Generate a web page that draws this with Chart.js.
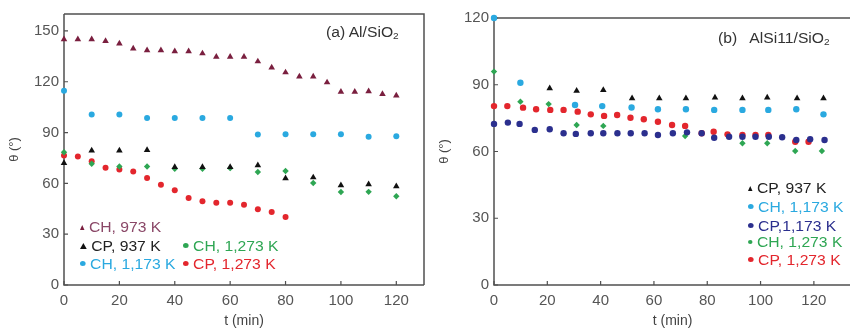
<!DOCTYPE html>
<html><head><meta charset="utf-8">
<script src="https://cdn.jsdelivr.net/npm/chart.js@4/dist/chart.umd.min.js"></script>
<style>
html,body{margin:0;padding:0;background:#fff;overflow:hidden;width:850px;height:329px;}
.panel{position:absolute;top:0;height:329px;}
.txt{position:absolute;font-family:"Liberation Sans",Arial,sans-serif;font-size:14px;white-space:nowrap;transform-origin:left center;transform:scaleX(1.12);line-height:16px;}
.mk{display:inline-block;margin-right:4px;}
.tri{width:0;height:0;border-left:3.5px solid transparent;border-right:3.5px solid transparent;border-bottom:6px solid;vertical-align:2px;}
.dot{width:5px;height:5px;border-radius:50%;vertical-align:3px;}
sub{font-size:9px;vertical-align:-2px;}
</style></head>
<body>
<div class="panel" style="left:0;width:430px;"><canvas id="c1" width="430" height="329"></canvas></div>
<div class="panel" style="left:430px;width:425px;"><canvas id="c2" width="425" height="329"></canvas></div>

<div class="txt" style="left:326px;top:24px;color:#333;">(a) Al/SiO<sub>2</sub></div>
<div class="txt" style="left:718px;top:30px;color:#333;">(b)&nbsp;&nbsp; AlSi11/SiO<sub>2</sub></div>

<div class="txt" style="left:80px;top:219px;color:#8a4767;"><span class="mk tri" style="border-bottom-color:#7a1f3f;border-left-width:2.5px;border-right-width:2.5px;border-bottom-width:5px;"></span>CH, 973 K</div>
<div class="txt" style="left:80px;top:238px;color:#222;"><span class="mk tri" style="border-bottom-color:#111;"></span>CP, 937 K</div>
<div class="txt" style="left:80px;top:256px;color:#2aa9e0;"><span class="mk dot" style="background:#2aa9e0;"></span>CH, 1,173 K</div>
<div class="txt" style="left:183px;top:238px;color:#2ea653;"><span class="mk dot" style="background:#2ea653;"></span>CH, 1,273 K</div>
<div class="txt" style="left:183px;top:256px;color:#e3262d;"><span class="mk dot" style="background:#e3262d;"></span>CP, 1,273 K</div>

<div class="txt" style="left:748px;top:180px;color:#222;"><span class="mk tri" style="border-bottom-color:#111;border-left-width:2.5px;border-right-width:2.5px;border-bottom-width:5px;"></span>CP, 937 K</div>
<div class="txt" style="left:748px;top:199px;color:#2aa9e0;"><span class="mk dot" style="background:#2aa9e0;"></span>CH, 1,173 K</div>
<div class="txt" style="left:748px;top:218px;color:#2b2f8e;"><span class="mk dot" style="background:#2b2f8e;"></span>CP,1,173 K</div>
<div class="txt" style="left:748px;top:234px;color:#2ea653;"><span class="mk dot" style="background:#2ea653;width:4px;height:4px;"></span>CH, 1,273 K</div>
<div class="txt" style="left:748px;top:252px;color:#e3262d;"><span class="mk dot" style="background:#e3262d;"></span>CP, 1,273 K</div>

<script>
// ---------- Panel (a) Al/SiO2 ----------
const a_CH973_t   = [0,5,10,15,20,25,30,35,40,45,50,55,60,65,70,75,80,85,90,95,100,105,110,115,120];
const a_CH973_v   = [145,145,145,144,142.5,139.6,138.6,138.6,138,138,136.7,134.7,134.7,134.7,132,128.4,125.5,123,123,119.6,114,114,114.4,112.7,111.8];
const a_CP937_t   = [0,10,20,30,40,50,60,70,80,90,100,110,120];
const a_CP937_v   = [72,79.4,79.4,79.7,69.6,69.6,69.6,70.6,63,63.5,58.8,59.4,58.2];
const a_CH1173_t  = [0,10,20,30,40,50,60,70,80,90,100,110,120];
const a_CH1173_v  = [114.7,100.6,100.6,98.6,98.6,98.6,98.6,88.8,89,89,89,87.6,87.8];
const a_CH1273_t  = [0,10,20,30,40,50,60,70,80,90,100,110,120];
const a_CH1273_v  = [78.4,71.6,70,70,68.6,68.6,69,66.7,67.3,60.2,54.9,55,52.4];
const a_CP1273_t  = [0,5,10,15,20,25,30,35,40,45,50,55,60,65,70,75,80];
const a_CP1273_v  = [76.5,75.9,73.1,69.2,68.2,67,63.1,59.2,55.9,51.4,49.4,48.6,48.6,47.4,44.7,43.1,40.2];
const a_xTicks = [0,20,40,60,80,100,120];
const a_yTicks = [0,30,60,90,120,150];

// ---------- Panel (b) AlSi11/SiO2 ----------
const b_CP937_t   = [20.9,31,41,51.8,62,72,82.9,93.2,102.5,113.7,123.6];
const b_CP937_v   = [88.4,87.3,87.6,83.9,83.9,83.9,84.2,83.9,84.2,83.9,83.9];
const b_CH1173_t  = [0,9.9,30.4,40.6,51.6,61.5,72,82.6,93.2,102.9,113.4,123.6];
const b_CH1173_v  = [120,90.9,80.9,80.4,79.8,79,79,78.7,78.7,78.7,79,76.7];
const b_CP1173_t  = [0,5.2,9.6,15.3,20.9,26.1,30.7,36.3,41,46.3,51.3,56.5,61.5,67.1,72.4,77.9,82.6,88.2,93.2,98.1,103.1,108.1,113.4,118.6,124];
const b_CP1173_v  = [72.4,73,72.4,69.7,70,68.2,67.9,68.2,68.2,68.2,68.2,68.2,67.4,68.2,68.6,68.2,66.2,66.6,66.6,66.6,66.6,66.4,65.2,65.5,65.2];
const b_CH1273_t  = [0,9.9,20.5,31,41,71.7,93.2,102.5,113,123];
const b_CH1273_v  = [95.9,82.4,81.3,71.9,71.5,67,63.7,63.7,60.2,60.2];
const b_CP1273_t  = [0,5,10.9,15.8,21.1,26.1,31.4,36.3,41.3,46.2,51.2,56.2,61.5,66.8,71.7,77.9,82.4,87.6,93.2,98.1,102.9,113,118];
const b_CP1273_v  = [80.4,80.4,79.7,79,78.7,78.7,77.9,76.7,76,76.4,75.2,74.5,73.4,71.9,71.5,68.2,68.9,67.7,67.4,67.4,67.4,64.4,64.4];
const b_xTicks = [0,20,40,60,80,100,120];
const b_yTicks = [0,30,60,90,120];

const AXIS = '#505050';
const TICKTXT = '#555';
const FONT = '"Liberation Sans", Arial, sans-serif';

function pts(t, v){ return t.map((x,i)=>({x:x, y:v[i]})); }
function ds(label, t, v, color, style, r){
  return {label, data: pts(t,v), showLine:false, pointStyle:style, clip:false,
    pointRadius:r, pointHoverRadius:r, backgroundColor:color, borderColor:color, borderWidth:0};
}

const framePlugin = {
  id:'frame',
  beforeDatasetsDraw(chart, args, opts){
    const {ctx, chartArea:ca, scales:{x,y}} = chart;
    ctx.save();
    ctx.strokeStyle = AXIS; ctx.lineWidth = 1.5;
    ctx.beginPath();
    ctx.moveTo(ca.left, ca.top); ctx.lineTo(ca.right, ca.top); ctx.lineTo(ca.right, ca.bottom);
    ctx.moveTo(ca.left, ca.top); ctx.lineTo(ca.left, ca.bottom); ctx.lineTo(ca.right, ca.bottom);
    ctx.stroke();
    ctx.lineWidth = 1.2;
    ctx.beginPath();
    opts.xt.forEach(v=>{ const p = x.getPixelForValue(v); ctx.moveTo(p, ca.bottom); ctx.lineTo(p, ca.bottom-4); });
    opts.yt.forEach(v=>{ const p = y.getPixelForValue(v); ctx.moveTo(ca.left, p); ctx.lineTo(ca.left+4, p); });
    ctx.stroke();
    ctx.restore();
  }
};

function make(id, datasets, xmax, ymax, xt, yt, padTop, padRight){
  return new Chart(document.getElementById(id), {
    type:'scatter',
    data:{datasets},
    options:{
      responsive:false, animation:false, devicePixelRatio:1,
      layout:{padding:{top:padTop, right:padRight, left:0, bottom:0}},
      plugins:{legend:{display:false}, tooltip:{enabled:false}, frame:{xt, yt}},
      scales:{
        x:{type:'linear', min:0, max:xmax,
          afterBuildTicks:s=>{ s.ticks = xt.map(v=>({value:v})); },
          afterFit:s=>{ s.height = 44; },
          grid:{display:false, drawTicks:false},
          border:{display:false},
          ticks:{color:TICKTXT, font:{family:FONT, size:15}, padding:7, maxRotation:0, autoSkip:false},
          title:{display:true, text:'t (min)', color:'#444', font:{family:FONT, size:14}, padding:{top:0,bottom:-1}}
        },
        y:{type:'linear', min:0, max:ymax,
          afterBuildTicks:s=>{ s.ticks = yt.map(v=>({value:v})); },
          afterFit:s=>{ s.width = 64; },
          grid:{display:false, drawTicks:false},
          border:{display:false},
          ticks:{color:TICKTXT, font:{family:FONT, size:15}, padding:5, autoSkip:false},
          title:{display:true, text:'θ (°)', color:'#444', font:{family:FONT, size:13}, padding:{top:7,bottom:0}}
        }
      }
    },
    plugins:[framePlugin]
  });
}

make('c1', [
  ds('CH, 973 K', a_CH973_t, a_CH973_v, '#7a1f3f', 'triangle', 3.8),
  ds('CP, 937 K', a_CP937_t, a_CP937_v, '#111111', 'triangle', 3.8),
  ds('CH, 1,173 K', a_CH1173_t, a_CH1173_v, '#2aa9e0', 'circle', 3),
  ds('CH, 1,273 K', a_CH1273_t, a_CH1273_v, '#2ea653', 'rectRot', 3.2),
  ds('CP, 1,273 K', a_CP1273_t, a_CP1273_v, '#e3262d', 'circle', 3)
], 130, 160, a_xTicks, a_yTicks, 13, 6);

make('c2', [
  ds('CP, 937 K', b_CP937_t, b_CP937_v, '#111111', 'triangle', 3.8),
  ds('CH, 1,173 K', b_CH1173_t, b_CH1173_v, '#2aa9e0', 'circle', 3.2),
  ds('CP,1,173 K', b_CP1173_t, b_CP1173_v, '#2b2f8e', 'circle', 3.2),
  ds('CH, 1,273 K', b_CH1273_t, b_CH1273_v, '#2ea653', 'rectRot', 3.2),
  ds('CP, 1,273 K', b_CP1273_t, b_CP1273_v, '#e3262d', 'circle', 3.2)
], 134, 120, b_xTicks, b_yTicks, 18, 0);
</script>
</body></html>
